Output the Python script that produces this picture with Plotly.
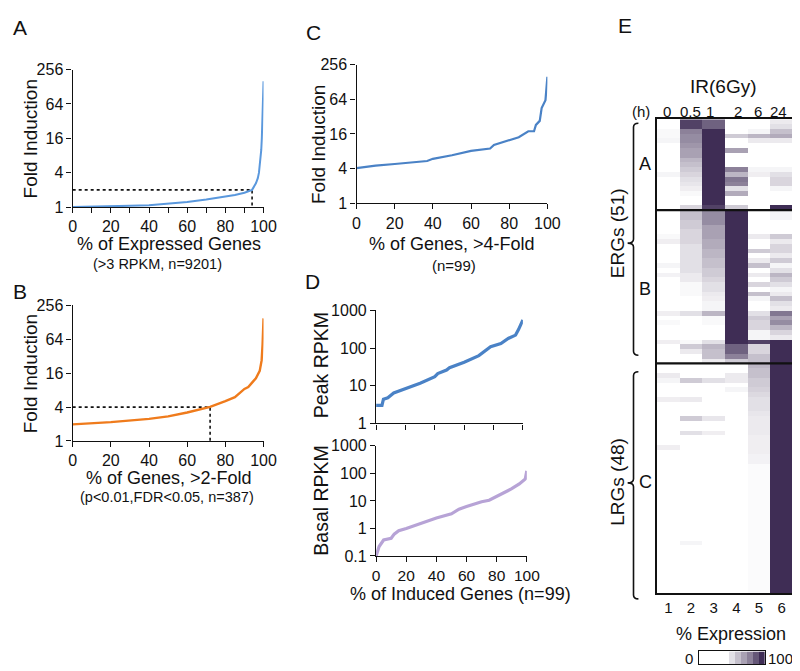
import plotly.graph_objects as go

W, H = 800, 671
FONT = "Arial, 'Liberation Sans', Helvetica, sans-serif"

# ---------------- data ----------------
# Panel A: all expressed genes
a_pct = [0, 10, 20, 30, 40, 50, 60, 70, 80, 85, 90, 94, 96, 97, 97.6, 98.3, 98.8, 99.1, 99.4, 99.6, 99.8, 100]
a_fold = [1.0, 1.01, 1.03, 1.05, 1.08, 1.14, 1.23, 1.35, 1.52, 1.62, 1.78, 2.0, 2.6, 3.2, 4.0, 6.0, 10, 16, 30, 64, 100, 160]
a_cut = [94, 2]

# Panel B: >2-fold genes
b_pct = [0, 20, 40, 50, 60, 72, 80, 85, 90, 92, 94, 96, 98, 99, 99.5, 100]
b_fold = [1.97, 2.16, 2.47, 2.74, 3.2, 4.03, 5.1, 6.0, 8.4, 9.1, 10.9, 13, 17.6, 27, 52, 151]
b_cut = [72, 4]

# Panel C: >4-fold genes
c_pct = [0, 10, 20, 30, 37, 40, 50, 60, 70, 72, 80, 85, 90, 93, 94, 96, 97, 98, 99, 100]
c_fold = [4.08, 4.5, 4.8, 5.2, 5.4, 5.9, 6.8, 8.1, 8.9, 10.3, 12.3, 14, 17.8, 17.8, 23, 27, 45, 55, 62, 158]

# Panel D: peak and basal RPKM
d_pct = [0, 4, 5, 8, 12, 20, 30, 40, 42, 48, 50, 60, 70, 78, 85, 90, 95, 97, 100]
d_peak = [3.0, 3.0, 4.4, 4.8, 6.4, 8.2, 11.7, 17.4, 21, 26, 30, 42, 63, 108, 132, 180, 220, 308, 560]
e_pct = [0, 1, 2, 5, 10, 12, 15, 20, 30, 40, 50, 55, 60, 70, 75, 80, 85, 90, 95, 99, 100]
d_basal = [0.1, 0.17, 0.22, 0.38, 0.44, 0.62, 0.82, 1.0, 1.6, 2.4, 3.4, 5.0, 6.2, 9.3, 10.6, 14.8, 19.5, 27.7, 41.5, 63, 123]

fold_ticks = [1, 4, 16, 64, 256]
rpkm_ticks = [0.1, 1, 10, 100, 1000]
pct_ticks = [0, 20, 40, 60, 80, 100]

# Panel E: heatmap (% expression), columns = time points 0, 0.5, 1, 2, 6, 24 h
time_labels = ["0", "0.5", "1", "2", "6", "24"]
col_labels = ["1", "2", "3", "4", "5", "6"]
group_A = [
    [0, 90, 75, 0, 0, 10],
    [0, 90, 75, 0, 0, 15],
    [3, 60, 100, 0, 5, 30],
    [3, 55, 100, 25, 35, 40],
    [5, 55, 100, 0, 10, 10],
    [0, 50, 100, 0, 0, 0],
    [0, 45, 100, 45, 0, 0],
    [0, 45, 100, 0, 0, 0],
    [0, 35, 100, 0, 0, 0],
    [0, 30, 100, 0, 0, 0],
    [0, 25, 100, 60, 5, 5],
    [5, 20, 100, 35, 8, 15],
    [0, 15, 100, 65, 0, 20],
    [0, 12, 100, 60, 0, 20],
    [0, 8, 100, 15, 0, 5],
    [0, 3, 100, 40, 0, 0],
    [0, 0, 100, 0, 0, 0],
    [0, 0, 100, 0, 0, 0],
    [0, 20, 90, 25, 0, 100],
]
group_B = [
    [0, 30, 55, 100, 0, 5],
    [0, 30, 55, 100, 0, 5],
    [0, 25, 55, 100, 0, 0],
    [0, 25, 45, 100, 0, 0],
    [0, 20, 45, 100, 0, 0],
    [3, 20, 45, 100, 10, 25],
    [8, 20, 40, 100, 0, 10],
    [0, 15, 40, 100, 0, 20],
    [0, 15, 35, 100, 25, 20],
    [0, 15, 35, 100, 0, 10],
    [0, 15, 30, 100, 10, 25],
    [5, 15, 30, 100, 30, 5],
    [0, 15, 25, 100, 0, 15],
    [6, 10, 25, 100, 10, 35],
    [0, 10, 20, 100, 0, 25],
    [0, 3, 15, 100, 20, 15],
    [0, 3, 15, 100, 0, 5],
    [0, 3, 10, 100, 30, 10],
    [0, 0, 8, 100, 5, 30],
    [0, 0, 5, 100, 0, 15],
    [0, 0, 5, 100, 0, 10],
    [8, 15, 35, 100, 15, 65],
    [0, 0, 3, 100, 25, 45],
    [3, 0, 3, 100, 20, 55],
    [0, 0, 0, 100, 20, 35],
    [0, 0, 0, 100, 5, 20],
    [0, 0, 0, 100, 5, 10],
    [8, 3, 15, 100, 90, 100],
    [0, 25, 35, 75, 20, 100],
    [0, 10, 30, 75, 20, 100],
    [0, 0, 30, 60, 30, 100],
    [0, 0, 10, 25, 30, 100],
]
group_C_col5 = [35, 30, 30, 25, 25, 22, 18, 15, 15, 15, 12, 10, 10, 10, 10, 8, 8, 8, 8, 6, 6,
                2, 2, 2, 2, 2, 2, 2, 2, 2, 2, 2, 2, 2, 2, 2, 2, 2, 2, 2, 2, 2, 2, 2, 2, 2, 2, 2]
group_C_extra = {  # row: [c1, c2, c3, c4]
    2: [10, 0, 0, 10],
    3: [5, 25, 15, 10],
    5: [0, 0, 0, 5],
    7: [8, 10, 0, 0],
    11: [0, 25, 12, 0],
    14: [0, 15, 8, 0],
    17: [8, 0, 0, 0],
    37: [0, 5, 0, 0],
}
legend_levels = [0, 0, 0, 0, 0, 15, 30, 45, 60, 80, 100]

# ---------------- helpers ----------------
def px(x):
    return x / W


def py(y):
    return 1 - y / H


def dom_x(x0, x1):
    return [px(x0), px(x1)]


def dom_y(y0, y1):
    return [py(y1), py(y0)]


annotations = []


def txt(x, y, text, size=17, angle=0, xanchor="center", yanchor="middle"):
    annotations.append(dict(x=px(x), y=py(y), xref="paper", yref="paper", text=text,
                            showarrow=False, textangle=angle, xanchor=xanchor, yanchor=yanchor,
                            font=dict(family=FONT, size=size, color="#111")))


AX = dict(showline=True, linecolor="#111", linewidth=1.4, ticks="outside", ticklen=5,
          tickwidth=1.4, tickcolor="#111", showgrid=False, zeroline=False,
          tickfont=dict(family=FONT, size=16, color="#111"))

BLUE_A = "#5a98dd"
BLUE = "#4a82c6"
ORANGE = "#ef7b1c"
LAV = "#b7a3d6"
DARK = "#3f2d55"

fig = go.Figure()

# Panel A
fig.add_trace(go.Scatter(x=[0, a_cut[0], a_cut[0]], y=[a_cut[1], a_cut[1], 1], mode="lines",
                         line=dict(color="#111", width=1.6, dash="dot"), xaxis="x", yaxis="y"))
fig.add_trace(go.Scatter(x=a_pct, y=a_fold, mode="lines", line=dict(color=BLUE_A, width=2),
                         xaxis="x", yaxis="y"))
# Panel B
fig.add_trace(go.Scatter(x=[0, b_cut[0], b_cut[0]], y=[b_cut[1], b_cut[1], 1], mode="lines",
                         line=dict(color="#111", width=1.6, dash="dot"), xaxis="x2", yaxis="y2"))
fig.add_trace(go.Scatter(x=b_pct, y=b_fold, mode="lines", line=dict(color=ORANGE, width=2.4),
                         xaxis="x2", yaxis="y2"))
# Panel C
fig.add_trace(go.Scatter(x=c_pct, y=c_fold, mode="lines", line=dict(color=BLUE, width=2.2),
                         xaxis="x3", yaxis="y3"))
# Panel D
fig.add_trace(go.Scatter(x=d_pct, y=d_peak, mode="lines", line=dict(color=BLUE, width=3.2),
                         xaxis="x4", yaxis="y4"))
fig.add_trace(go.Scatter(x=e_pct, y=d_basal, mode="lines", line=dict(color=LAV, width=3.2),
                         xaxis="x5", yaxis="y5"))

# Panel E heatmap
rows = [list(r) for r in group_A] + [list(r) for r in group_B]
for i, c5 in enumerate(group_C_col5):
    ex = group_C_extra.get(i, [0, 0, 0, 0])
    rows.append(ex + [c5, 100])
nA, nB = len(group_A), len(group_B)
cscale = [[0, "#ffffff"], [1, DARK]]
fig.add_trace(go.Heatmap(z=rows, x=[1, 2, 3, 4, 5, 6], y=list(range(len(rows))),
                         colorscale=cscale, zmin=0, zmax=100, showscale=False,
                         xaxis="x6", yaxis="y6", hoverinfo="skip"))
fig.add_trace(go.Heatmap(z=[legend_levels], x=list(range(len(legend_levels))), y=[0],
                         colorscale=cscale, zmin=0, zmax=100, showscale=False,
                         xaxis="x7", yaxis="y7", hoverinfo="skip"))

log2_range = [0, 2.40824]

layout = dict(
    width=W, height=H, margin=dict(l=0, r=0, t=0, b=0),
    paper_bgcolor="white", plot_bgcolor="white", showlegend=False,
    font=dict(family=FONT, color="#111"),
    # A
    xaxis=dict(AX, domain=dom_x(62, 257), range=[0, 100], anchor="y",
               tickvals=list(range(0, 101, 10)),
               ticktext=[str(v) if v % 20 == 0 else "" for v in range(0, 101, 10)]),
    yaxis=dict(AX, domain=dom_y(55, 196), type="log", range=log2_range, anchor="x",
               tickvals=fold_ticks, ticktext=[str(v) for v in fold_ticks]),
    # B
    xaxis2=dict(AX, domain=dom_x(62, 257), range=[0, 100], anchor="y2",
                tickvals=pct_ticks, ticktext=[str(v) for v in pct_ticks]),
    yaxis2=dict(AX, domain=dom_y(297, 436), type="log", range=log2_range, anchor="x2",
                tickvals=fold_ticks, ticktext=[str(v) for v in fold_ticks]),
    # C
    xaxis3=dict(AX, domain=dom_x(352, 547), range=[0, 100], anchor="y3",
                tickvals=pct_ticks, ticktext=[str(v) for v in pct_ticks]),
    yaxis3=dict(AX, domain=dom_y(50, 192), type="log", range=log2_range, anchor="x3",
                tickvals=fold_ticks, ticktext=[str(v) for v in fold_ticks]),
    # D top
    xaxis4=dict(AX, domain=dom_x(372, 522), range=[0, 100], anchor="y4",
                tickvals=pct_ticks, ticktext=[""] * len(pct_ticks)),
    yaxis4=dict(AX, domain=dom_y(302, 418), type="log", range=[0, 3], anchor="x4",
                tickvals=rpkm_ticks[1:], ticktext=["1", "10", "100", "1000"]),
    # D bottom
    xaxis5=dict(AX, domain=dom_x(372, 526), range=[0, 100], anchor="y5",
                tickvals=pct_ticks, ticktext=[str(v) for v in pct_ticks],
                tickfont=dict(family=FONT, size=15.5, color="#111")),
    yaxis5=dict(AX, domain=dom_y(441, 554), type="log", range=[-1, 3], anchor="x5",
                tickvals=rpkm_ticks, ticktext=["0.1", "1", "10", "100", "1000"]),
    # E heatmap
    xaxis6=dict(domain=dom_x(659, 798), range=[0.5, 6.5], anchor="y6", showline=True,
                mirror=True, linecolor="#111", linewidth=2, ticks="", showgrid=False,
                zeroline=False, tickvals=[1, 2, 3, 4, 5, 6], ticktext=col_labels,
                tickfont=dict(family=FONT, size=15, color="#111")),
    yaxis6=dict(domain=dom_y(106, 592), range=[len(rows) - 0.5, -0.5], anchor="x6",
                showline=True, mirror=True, linecolor="#111", linewidth=2, ticks="",
                showticklabels=False, showgrid=False, zeroline=False),
    # colour key
    xaxis7=dict(domain=dom_x(702, 769), range=[-0.5, len(legend_levels) - 0.5], anchor="y7",
                showline=True, mirror=True, linecolor="#111", linewidth=1.2, ticks="",
                showticklabels=False, showgrid=False, zeroline=False),
    yaxis7=dict(domain=dom_y(652, 665), range=[-0.5, 0.5], anchor="x7", showline=True,
                mirror=True, linecolor="#111", linewidth=1.2, ticks="", showticklabels=False,
                showgrid=False, zeroline=False),
)

# separators between heatmap groups
shapes = []
for yb in [nA - 0.5, nA + nB - 0.5]:
    shapes.append(dict(type="line", xref="x6 domain", yref="y6", x0=0, x1=1, y0=yb, y1=yb,
                       line=dict(color="#111", width=2.2)))


def brace(x_end, x_line, x_tip, y_top, y_mid, y_bot, r=4):
    pts = [("M", [(x_end, y_top)]),
           ("Q", [(x_line, y_top), (x_line, y_top + r)]),
           ("L", [(x_line, y_mid - r)]),
           ("Q", [(x_line, y_mid), (x_tip, y_mid)]),
           ("Q", [(x_line, y_mid), (x_line, y_mid + r)]),
           ("L", [(x_line, y_bot - r)]),
           ("Q", [(x_line, y_bot), (x_end, y_bot)])]
    s = ""
    for cmd, ps in pts:
        s += cmd + " " + " ".join(f"{px(a):.5f},{py(b):.5f}" for a, b in ps) + " "
    return dict(type="path", xref="paper", yref="paper", path=s.strip(),
                line=dict(color="#111", width=1.6))


shapes.append(brace(640, 635, 629, 110, 233, 348))
shapes.append(brace(640, 635, 629, 365, 479, 598))
layout["shapes"] = shapes

# ---------------- text ----------------
# panel letters
txt(8, 12, "A", 21)
txt(8, 283, "B", 21)
txt(308, 17, "C", 21)
txt(307, 272, "D", 21)
txt(626, 10, "E", 21)

# A
txt(19, 126, "Fold Induction", 19, angle=-90)
txt(160, 234, "% of Expressed Genes", 18)
txt(149, 254, "(&gt;3 RPKM, n=9201)", 14.5)
# B
txt(19, 367, "Fold Induction", 19, angle=-90)
txt(160, 474, "% of Genes, &gt;2-Fold", 18)
txt(158, 493, "(p&lt;0.01,FDR&lt;0.05, n=387)", 14.5)
# C
txt(313, 132, "Fold Induction", 19, angle=-90)
txt(450, 234, "% of Genes, &gt;4-Fold", 18)
txt(452, 256, "(n=99)", 15)
# D
txt(316, 358, "Peak RPKM", 19.5, angle=-90)
txt(316, 497, "Basal RPKM", 19.5, angle=-90)
txt(458, 593, "% of Induced Genes (n=99)", 18)
# E
txt(727, 72, "IR(6Gy)", 19)
txt(643, 98, "(h)", 15)
for xp, lab in zip([669, 693, 713, 742, 762, 783], time_labels):
    txt(xp, 98, lab, 15)
txt(619, 223, "ERGs (51)", 19, angle=-90)
txt(619, 478, "LRGs (48)", 19, angle=-90)
txt(647, 152, "A", 18)
txt(647, 280, "B", 18)
txt(647, 478, "C", 18)
txt(735, 634, "% Expression", 18)
txt(692, 659, "0", 15)
txt(785, 659, "100", 15)

layout["annotations"] = annotations
fig.update_layout(**layout)
fig.write_html("out.html")
